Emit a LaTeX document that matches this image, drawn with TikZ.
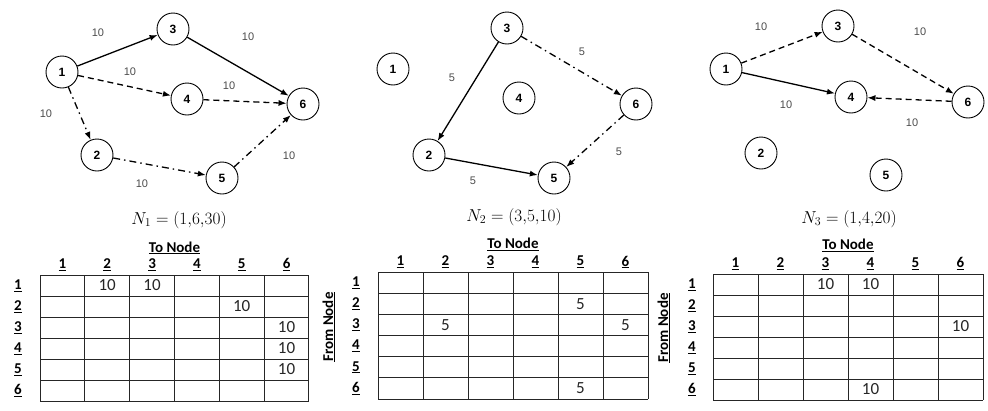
\documentclass[tikz,border=0pt]{standalone}
\usepackage[no-math]{fontspec}
\setmainfont{Liberation Sans}
\newfontfamily\tabfont{Carlito}
\usetikzlibrary{arrows.meta}
\begin{document}
\begin{tikzpicture}[x=1pt,y=-1pt,
  gnode/.style={circle,draw,line width=0.9pt,minimum size=32pt,inner sep=0pt,font=\fontsize{12}{14}\selectfont\bfseries},
  elabel/.style={font=\fontsize{11}{13}\selectfont,text=black!70,inner sep=0pt},
  edgebase/.style={line width=1.3pt,-{Latex[length=8pt,width=6pt]}},
  solidedge/.style={edgebase},
  dashedge/.style={edgebase,dash pattern=on 6pt off 4pt},
  dotedge/.style={edgebase,dash pattern=on 7pt off 4pt on 1.5pt off 4pt},
  caption/.style={font=\fontsize{17}{20}\selectfont,inner sep=0pt},
  gridline/.style={line width=1pt,black!85},
  hdr/.style={font=\tabfont\fontsize{15}{17}\selectfont\bfseries,inner sep=0pt},
  val/.style={font=\tabfont\fontsize{17}{19}\selectfont,text=black!85,inner sep=0pt}]
\useasboundingbox (0,0) rectangle (988,410);

% ---------- Panel 1 ----------
\node[gnode] (a1) at (62,72) {1};
\node[gnode] (a3) at (173,29) {3};
\node[gnode] (a4) at (187,99) {4};
\node[gnode] (a6) at (303,104) {6};
\node[gnode] (a2) at (97,155) {2};
\node[gnode] (a5) at (222,178) {5};
\draw[solidedge] (a1) -- (a3);
\draw[solidedge] (a3) -- (a6);
\draw[dashedge] (a1) -- (a4);
\draw[dashedge] (a4) -- (a6);
\draw[dotedge] (a1) -- (a2);
\draw[dotedge] (a2) -- (a5);
\draw[dotedge] (a5) -- (a6);
\node[elabel] (la13) at (98,33) {10};
\node[elabel] (la36) at (248,37) {10};
\node[elabel] (la14) at (130,72) {10};
\node[elabel] (la46) at (229,86) {10};
\node[elabel] (la12) at (46,114) {10};
\node[elabel] (la25) at (142,184) {10};
\node[elabel] (la56) at (289,156) {10};
\node[caption] (capa) at (179,220) {$N_1 = (1{,}6{,}30)$};

% ---------- Panel 2 ----------
\node[gnode] (b1) at (393,69) {1};
\node[gnode] (b3) at (507,28) {3};
\node[gnode] (b4) at (519,98) {4};
\node[gnode] (b6) at (636,104) {6};
\node[gnode] (b2) at (429,155) {2};
\node[gnode] (b5) at (554,178) {5};
\draw[solidedge] (b3) -- (b2);
\draw[solidedge] (b2) -- (b5);
\draw[dotedge] (b3) -- (b6);
\draw[dotedge] (b6) -- (b5);
\node[elabel] (lb32) at (452,78) {5};
\node[elabel] (lb36) at (582,52) {5};
\node[elabel] (lb65) at (619,152) {5};
\node[elabel] (lb25) at (473,181) {5};
\node[caption] (capb) at (514,217) {$N_2 = (3{,}5{,}10)$};

% ---------- Panel 3 ----------
\node[gnode] (c1) at (726,69) {1};
\node[gnode] (c3) at (838,26) {3};
\node[gnode] (c4) at (851,97) {4};
\node[gnode] (c6) at (968,102) {6};
\node[gnode] (c2) at (761,153) {2};
\node[gnode] (c5) at (886,175) {5};
\draw[dashedge] (c1) -- (c3);
\draw[dashedge] (c3) -- (c6);
\draw[dashedge] (c6) -- (c4);
\draw[solidedge] (c1) -- (c4);
\node[elabel] (lc13) at (761,27) {10};
\node[elabel] (lc36) at (920,32) {10};
\node[elabel] (lc14) at (786,105) {10};
\node[elabel] (lc64) at (912,123) {10};
\node[caption] (capc) at (849,219) {$N_3 = (1{,}4{,}20)$};

% ---------- Table 1 ----------
\begin{scope}[shift={(40,275)},x=44.83pt,y=-21pt]
  \foreach \i in {0,...,6} {\draw[gridline] (\i,0) -- (\i,6); \draw[gridline] (0,\i) -- (6,\i);}
  \foreach \i in {1,...,6} {
    \node[hdr] (ta-c\i) at (\i-0.5,-0.5) {\underline{\i}};
    \node[hdr] (ta-r\i) at (-0.49,\i-0.5) {\underline{\i}};
  }
  \node[hdr] (ta-to) at (3,-1.29) {\underline{To Node}};
  \node[val] (ta-v12) at (1.5,0.5) {10};
  \node[val] (ta-v13) at (2.5,0.5) {10};
  \node[val] (ta-v25) at (4.5,1.5) {10};
  \node[val] (ta-v36) at (5.5,2.5) {10};
  \node[val] (ta-v46) at (5.5,3.5) {10};
  \node[val] (ta-v56) at (5.5,4.5) {10};
\end{scope}

% ---------- Table 2 ----------
\begin{scope}[shift={(378,272)},x=45pt,y=-21.17pt]
  \foreach \i in {0,...,6} {\draw[gridline] (\i,0) -- (\i,6); \draw[gridline] (0,\i) -- (6,\i);}
  \foreach \i in {1,...,6} {
    \node[hdr] (tb-c\i) at (\i-0.5,-0.47) {\underline{\i}};
    \node[hdr] (tb-r\i) at (-0.49,\i-0.5) {\underline{\i}};
  }
  \node[hdr] (tb-to) at (3,-1.32) {\underline{To Node}};
  \node[hdr,rotate=90] (tb-from) at (-1.09,2.6) {\underline{From Node}};
  \node[val] (tb-v25) at (4.5,1.5) {5};
  \node[val] (tb-v32) at (1.5,2.5) {5};
  \node[val] (tb-v36) at (5.5,2.5) {5};
  \node[val] (tb-v65) at (4.5,5.5) {5};
\end{scope}

% ---------- Table 3 ----------
\begin{scope}[shift={(713,274)},x=45pt,y=-21pt]
  \foreach \i in {0,...,6} {\draw[gridline] (\i,0) -- (\i,6); \draw[gridline] (0,\i) -- (6,\i);}
  \foreach \i in {1,...,6} {
    \node[hdr] (tc-c\i) at (\i-0.5,-0.5) {\underline{\i}};
    \node[hdr] (tc-r\i) at (-0.47,\i-0.5) {\underline{\i}};
  }
  \node[hdr] (tc-to) at (3,-1.36) {\underline{To Node}};
  \node[hdr,rotate=90] (tc-from) at (-1.09,2.57) {\underline{From Node}};
  \node[val] (tc-v13) at (2.5,0.5) {10};
  \node[val] (tc-v14) at (3.5,0.5) {10};
  \node[val] (tc-v36) at (5.5,2.5) {10};
  \node[val] (tc-v64) at (3.5,5.5) {10};
\end{scope}
\end{tikzpicture}
\end{document}
